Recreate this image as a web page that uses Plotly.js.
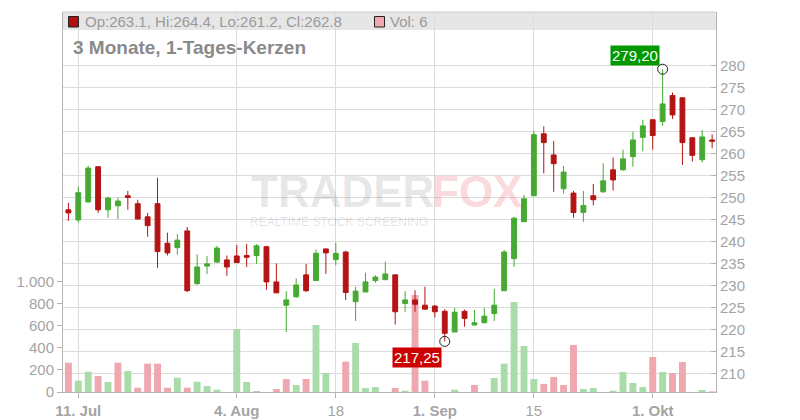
<!DOCTYPE html>
<html>
<head>
<meta charset="utf-8">
<script src="https://cdn.plot.ly/plotly-3.0.1.min.js"></script>
<style>html,body{margin:0;padding:0;background:#fff;}#chart{width:800px;height:420px;}</style>
</head>
<body>
<div id="chart"></div>
<script>
// ---- data ----
const dates = [
 '2025-07-10','2025-07-11','2025-07-14','2025-07-15','2025-07-16','2025-07-17','2025-07-18',
 '2025-07-21','2025-07-22','2025-07-23','2025-07-24','2025-07-25',
 '2025-07-28','2025-07-29','2025-07-30','2025-07-31','2025-08-01',
 '2025-08-04','2025-08-05','2025-08-06','2025-08-07','2025-08-08',
 '2025-08-11','2025-08-12','2025-08-13','2025-08-14','2025-08-15',
 '2025-08-18','2025-08-19','2025-08-20','2025-08-21','2025-08-22',
 '2025-08-25','2025-08-26','2025-08-27','2025-08-28','2025-08-29',
 '2025-09-01','2025-09-02','2025-09-03','2025-09-04','2025-09-05',
 '2025-09-08','2025-09-09','2025-09-10','2025-09-11','2025-09-12',
 '2025-09-15','2025-09-16','2025-09-17','2025-09-18','2025-09-19',
 '2025-09-22','2025-09-23','2025-09-24','2025-09-25','2025-09-26',
 '2025-09-29','2025-09-30','2025-10-01','2025-10-02','2025-10-03',
 '2025-10-06','2025-10-07','2025-10-08','2025-10-09'
];
const opens = [
 247.2,244.9,249.0,257.0,247.2,248.1,250.4,
 248.6,245.6,248.6,239.6,238.6,
 242.4,230.4,234.4,235.3,235.8,
 236.7,236.8,236.8,238.8,230.8,
 225.5,227.4,232.4,231.1,238.3,
 235.9,237.6,226.3,228.5,231.1,
 231.3,232.4,225.9,226.7,225.5,
 225.3,224.1,219.4,224.1,221.0,
 221.5,223.6,228.8,236.1,244.5,
 250.4,264.5,259.7,252.0,251.0,
 246.6,250.4,251.3,256.3,256.3,
 259.3,263.7,267.7,267.3,273.2,
 272.7,263.6,258.6,263.1
];
const highs = [
 248.8,252.5,257.2,257.1,250.2,250.0,251.5,
 249.5,246.5,254.5,242.0,241.7,
 243.3,237.1,236.7,239.0,236.8,
 239.2,239.4,239.4,239.0,235.0,
 228.7,231.6,234.9,238.2,238.4,
 239.7,237.9,229.7,232.9,232.3,
 235.4,232.4,228.7,228.9,229.7,
 225.5,224.6,224.9,224.5,224.4,
 224.9,229.2,238.1,245.6,250.6,
 265.2,266.2,262.9,257.2,251.5,
 251.5,253.1,257.8,259.1,260.9,
 265.0,267.7,267.7,279.2,273.9,
 272.7,263.6,265.4,264.4
];
const lows = [
 244.7,244.3,248.9,246.5,245.4,245.1,247.2,
 245.1,241.1,234.0,236.8,237.0,
 228.5,230.1,232.6,235.1,232.2,
 235.1,234.2,234.9,229.0,228.3,
 219.4,227.2,228.5,231.0,232.6,
 234.6,226.7,221.9,228.5,230.6,
 231.2,221.1,224.0,224.0,224.5,
 222.7,217.25,219.4,220.6,220.9,
 221.4,221.9,228.8,234.2,244.5,
 250.4,255.5,251.3,250.9,245.4,
 244.5,248.2,251.1,251.6,256.1,
 257.0,260.5,260.9,266.3,267.9,
 257.4,258.2,258.0,261.2
];
const closes = [
 246.5,251.1,256.7,247.2,249.9,249.2,250.0,
 245.1,243.6,237.7,237.4,240.3,
 228.8,234.2,234.9,238.5,234.2,
 235.2,236.4,239.0,230.8,228.3,
 226.7,230.1,228.8,237.3,237.4,
 237.3,228.4,228.7,230.8,231.9,
 232.6,224.0,226.7,225.7,224.6,
 224.0,219.1,223.9,222.5,221.5,
 223.0,225.5,237.6,245.3,249.7,
 264.3,262.5,257.7,255.8,246.6,
 248.2,249.5,253.8,254.0,258.8,
 263.1,266.3,264.1,271.3,268.8,
 262.5,259.6,263.8,262.8
];
const volumes = [
 266,103,184,145,91,266,190,
 39,257,257,39,130,
 39,93,54,21,0,
 571,91,9,0,27,
 118,63,118,607,172,
 0,275,444,36,45,
 0,36,12,879,103,
 0,0,21,0,63,
 0,127,257,816,417,
 118,73,136,63,426,
 27,36,0,12,181,
 82,45,317,181,172,
 272,0,18,6
];
const xTickDates = ['2025-07-11','2025-08-04','2025-08-18','2025-09-01','2025-09-15','2025-10-01'];
const xTickLabels = ['<b>11. Jul</b>','<b>4. Aug</b>','18','<b>1. Sep</b>','15','<b>1. Okt</b>'];
const priceTicks = [210,215,220,225,230,235,240,245,250,255,260,265,270,275,280];
const volTicks = [0,200,400,600,800,1000];
const volTickLabels = ['0','200','400','600','800','1.000'];

// ---- styling ----
const UP = '#46aa32', DOWN = '#b41414';
const VOL_UP = '#aadcaa', VOL_DOWN = '#f0a8b0';
const GRID = '#dcdcdc', AXIS = '#b4b4b4', TXT = '#a4a4a4';
const L = 63, T = 12, W = 653, H = 380;
const px = x => (x - L) / W;
const py = y => 1 - (y - T) / H;

const volColors = volumes.map((v, i) => {
  const ref = i === 0 ? opens[0] : closes[i - 1];
  return closes[i] >= ref ? VOL_UP : VOL_DOWN;
});

let iMax = 0, iMin = 0;
highs.forEach((h, i) => { if (h > highs[iMax]) iMax = i; });
lows.forEach((l, i) => { if (l < lows[iMin]) iMin = i; });
const de = v => v.toFixed(2).replace('.', ',');
const n = dates.length - 1;
const headerText = 'Op:' + opens[n].toFixed(1) + ', Hi:' + highs[n].toFixed(1) +
  ', Lo:' + lows[n].toFixed(1) + ', Cl:' + closes[n].toFixed(1);

const traces = [
  {type: 'bar', x: dates, y: volumes, yaxis: 'y', width: 0.7,
   marker: {color: volColors, line: {width: 0}}, hoverinfo: 'skip'},
  {type: 'candlestick', x: dates, open: opens, high: highs, low: lows, close: closes,
   xaxis: 'x', yaxis: 'y2', whiskerwidth: 0,
   increasing: {line: {color: UP, width: 1}, fillcolor: UP},
   decreasing: {line: {color: DOWN, width: 1}, fillcolor: DOWN}, hoverinfo: 'skip'},
  {type: 'scatter', mode: 'markers', x: [dates[iMax], dates[iMin]], y: [highs[iMax], lows[iMin]],
   yaxis: 'y2', marker: {symbol: 'circle-open', size: 10, color: '#222', line: {width: 1}}, hoverinfo: 'skip'}
];

const FONT = 'Liberation Sans, Arial, sans-serif';
const layout = {
  width: 800, height: 420,
  margin: {l: L, r: 800 - L - W, t: T, b: 420 - T - H},
  paper_bgcolor: '#fff', plot_bgcolor: '#fff',
  showlegend: false,
  font: {family: FONT, size: 15, color: TXT},
  xaxis: {type: 'category', range: [-0.545, 65.39], tickmode: 'array',
    tickvals: xTickDates, ticktext: xTickLabels, showgrid: true, gridcolor: GRID, gridwidth: 1,
    showline: true, linecolor: AXIS, linewidth: 1, ticks: 'outside', ticklen: 5, tickcolor: AXIS,
    rangeslider: {visible: false}, tickfont: {size: 15, color: TXT}, fixedrange: true},
  yaxis: {range: [0, 3445], tickmode: 'array', tickvals: volTicks, ticktext: volTickLabels,
    showgrid: false, zeroline: false, showline: true, linecolor: AXIS, linewidth: 1,
    ticks: 'outside', ticklen: 5, tickcolor: AXIS, side: 'left', tickfont: {size: 15, color: TXT}, fixedrange: true},
  yaxis2: {overlaying: 'y', side: 'right', range: [205.74, 292.22], tickmode: 'array', tickvals: priceTicks,
    showgrid: true, gridcolor: GRID, gridwidth: 1, zeroline: false, showline: true, linecolor: AXIS, linewidth: 1,
    ticks: 'inside', ticklen: 5, tickcolor: AXIS, tickfont: {size: 15, color: TXT}, fixedrange: true},
  shapes: [
    {type: 'rect', xref: 'paper', yref: 'paper', x0: 0, x1: 1, y0: py(30), y1: 1,
     fillcolor: '#e6e6e6', line: {width: 0}, layer: 'below'},
    {type: 'line', xref: 'paper', yref: 'paper', x0: 0, x1: 1, y0: 1, y1: 1,
     line: {color: '#cccccc', width: 1}},
    {type: 'rect', xref: 'paper', yref: 'paper', x0: px(68.5), x1: px(78.5), y0: py(27), y1: py(16.5),
     fillcolor: '#b01010', line: {color: '#222', width: 1}},
    {type: 'rect', xref: 'paper', yref: 'paper', x0: px(374.5), x1: px(384.5), y0: py(27), y1: py(16.5),
     fillcolor: VOL_DOWN, line: {color: '#222', width: 1}}
  ],
  annotations: [
    {xref: 'paper', yref: 'paper', x: px(436), y: py(191), xanchor: 'right', yanchor: 'middle',
     text: '<b>TRADER</b>', showarrow: false, font: {family: FONT, size: 44, color: 'rgba(0,0,0,0.10)'}},
    {xref: 'paper', yref: 'paper', x: px(430), y: py(191), xanchor: 'left', yanchor: 'middle',
     text: '<b>FOX</b>', showarrow: false, font: {family: FONT, size: 44, color: 'rgba(235,60,80,0.20)'}},
    {xref: 'paper', yref: 'paper', x: px(339), y: py(222), xanchor: 'center', yanchor: 'middle',
     text: 'REALTIME STOCK SCREENING', showarrow: false, font: {family: FONT, size: 12, color: 'rgba(0,0,0,0.12)'}},
    {xref: 'paper', yref: 'paper', x: px(83), y: py(22), xanchor: 'left', yanchor: 'middle',
     text: headerText, showarrow: false, font: {family: FONT, size: 15, color: '#9a9a9a'}},
    {xref: 'paper', yref: 'paper', x: px(388), y: py(22), xanchor: 'left', yanchor: 'middle',
     text: 'Vol: ' + volumes[n], showarrow: false, font: {family: FONT, size: 15, color: '#9a9a9a'}},
    {xref: 'paper', yref: 'paper', x: px(71), y: py(48), xanchor: 'left', yanchor: 'middle',
     text: '<b>3 Monate, 1-Tages-Kerzen</b>', showarrow: false, font: {family: FONT, size: 19, color: '#8a8a8a'}},
    {xref: 'x', yref: 'y2', x: dates[iMax], y: highs[iMax], xanchor: 'right', yanchor: 'bottom',
     xshift: -2.6, yshift: 3.2, text: de(highs[iMax]), showarrow: false, bgcolor: '#009900', borderpad: 1,
     font: {family: FONT, size: 15, color: '#ffffff'}},
    {xref: 'x', yref: 'y2', x: dates[iMin], y: lows[iMin], xanchor: 'right', yanchor: 'top',
     xshift: -2.7, yshift: -5.6, text: de(lows[iMin]), showarrow: false, bgcolor: '#cc0000', borderpad: 1,
     font: {family: FONT, size: 15, color: '#ffffff'}}
  ]
};

Plotly.newPlot('chart', traces, layout, {staticPlot: true, displayModeBar: false});
</script>
</body>
</html>
